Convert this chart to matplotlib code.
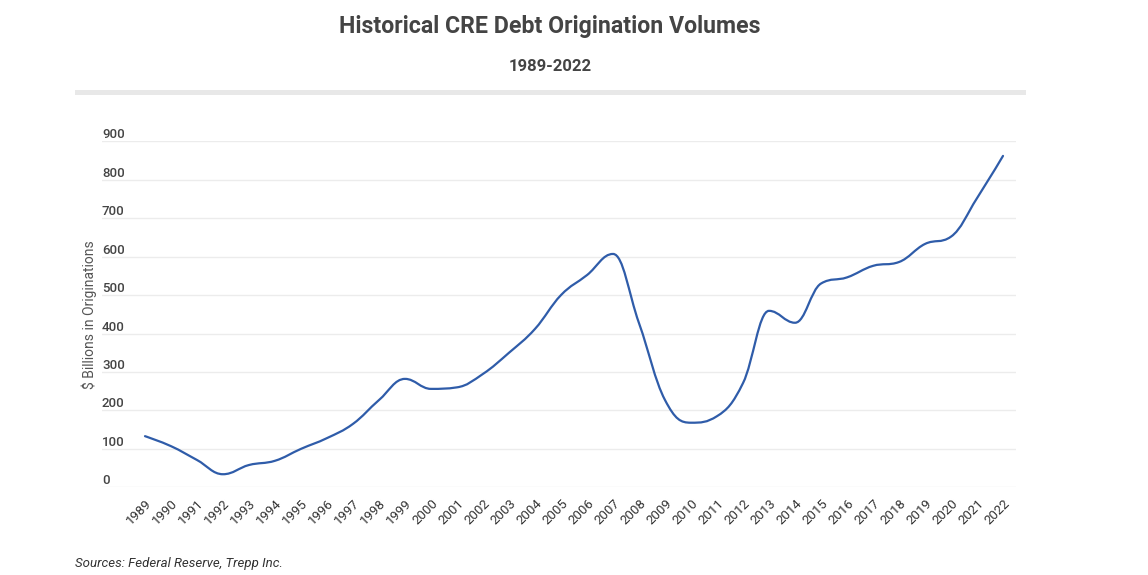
import numpy as np
import matplotlib
matplotlib.use("Agg")
import matplotlib.pyplot as plt
from matplotlib.path import Path
from matplotlib.patches import PathPatch, Rectangle

plt.rcParams['font.family'] = ['Roboto', 'DejaVu Sans']

years = list(range(1989, 2023))
volumes = [133, 107, 71, 34, 58, 69, 100, 128, 165, 227, 282, 256, 260, 295,
           350, 412, 500, 552, 607, 427, 227, 168, 185, 271, 459, 428, 530,
           546, 576, 586, 633, 652, 752, 862]
y_ticks = [0, 100, 200, 300, 400, 500, 600, 700, 800, 900]

line_color = '#2f5ca9'


def spline_path(xs, ys, smoothing=1.5):
    # Highcharts-like spline: cubic bezier through every point
    n = len(xs)
    verts = [(xs[0], ys[0])]
    codes = [Path.MOVETO]
    right = [(xs[0], ys[0])] * n
    left = [(xs[0], ys[0])] * n
    for i in range(n):
        x, y = xs[i], ys[i]
        if i == 0 or i == n - 1:
            left[i] = (x, y)
            right[i] = (x, y)
            continue
        lx, ly = xs[i - 1], ys[i - 1]
        nx, ny = xs[i + 1], ys[i + 1]
        d = smoothing + 1
        lcx, lcy = (smoothing * x + lx) / d, (smoothing * y + ly) / d
        rcx, rcy = (smoothing * x + nx) / d, (smoothing * y + ny) / d
        corr = ((rcy - lcy) * (rcx - x)) / (rcx - lcx) + y - rcy
        lcy += corr
        rcy += corr
        if lcy > ly and lcy > y:
            lcy = max(ly, y)
            rcy = 2 * y - lcy
        elif lcy < ly and lcy < y:
            lcy = min(ly, y)
            rcy = 2 * y - lcy
        if rcy > ny and rcy > y:
            rcy = max(ny, y)
            lcy = 2 * y - rcy
        elif rcy < ny and rcy < y:
            rcy = min(ny, y)
            lcy = 2 * y - rcy
        left[i] = (lcx, lcy)
        right[i] = (rcx, rcy)
    for i in range(1, n):
        verts += [right[i - 1], left[i], (xs[i], ys[i])]
        codes += [Path.CURVE4] * 3
    return Path(verts, codes)


fig = plt.figure(figsize=(11.48, 5.75), dpi=100)
W, H = 1148, 575

# title block
fig.text(550 / W, 1 - 26 / H, 'Historical CRE Debt Origination Volumes',
         ha='center', va='center', fontsize=16.7, fontweight='bold', color='#444444')
fig.text(550 / W, 1 - 67 / H, '1989-2022', ha='center', va='center',
         fontsize=12, fontweight='bold', color='#444444')
fig.patches.append(Rectangle((75 / W, 1 - 95 / H), 951 / W, 5 / H,
                             transform=fig.transFigure, color='#e8e8e8', lw=0))

ax = fig.add_axes([102 / W, 1 - 487.3 / H, 914 / W, 346 / H])
ax.set_xlim(1989 - 43 / 26, 2022 + 13 / 26)
ax.set_ylim(0, 900)

ax.add_patch(PathPatch(spline_path(years, volumes), fill=False,
                       edgecolor=line_color, lw=1.6, capstyle='round'))

for s in ax.spines.values():
    s.set_visible(False)
ax.set_yticks(y_ticks)
ax.grid(axis='y', color='#ececec', lw=1)
ax.set_axisbelow(True)
ax.tick_params(axis='y', length=0, pad=0, labelsize=9.5, labelcolor='#444444')
for lab in ax.get_yticklabels():
    lab.set_ha('left')
    lab.set_va('bottom')
    lab.set_fontweight('medium')

ax.set_xticks(years)
ax.set_xticklabels([str(y) for y in years], rotation=45, ha='right',
                   rotation_mode='anchor', fontsize=9.5, color='#333333')
ax.tick_params(axis='x', length=0, pad=7)

ax.set_ylabel('$ Billions in Originations', fontsize=10, color='#555555')
ax.yaxis.set_label_coords((97 - 102) / 914, 0.5)

fig.text(75 / W, 1 - 563 / H, 'Sources: Federal Reserve, Trepp Inc.',
         ha='left', va='center', fontsize=9.5, style='italic', color='#333333')

fig.savefig('out.png', dpi=100)
plt.close()
